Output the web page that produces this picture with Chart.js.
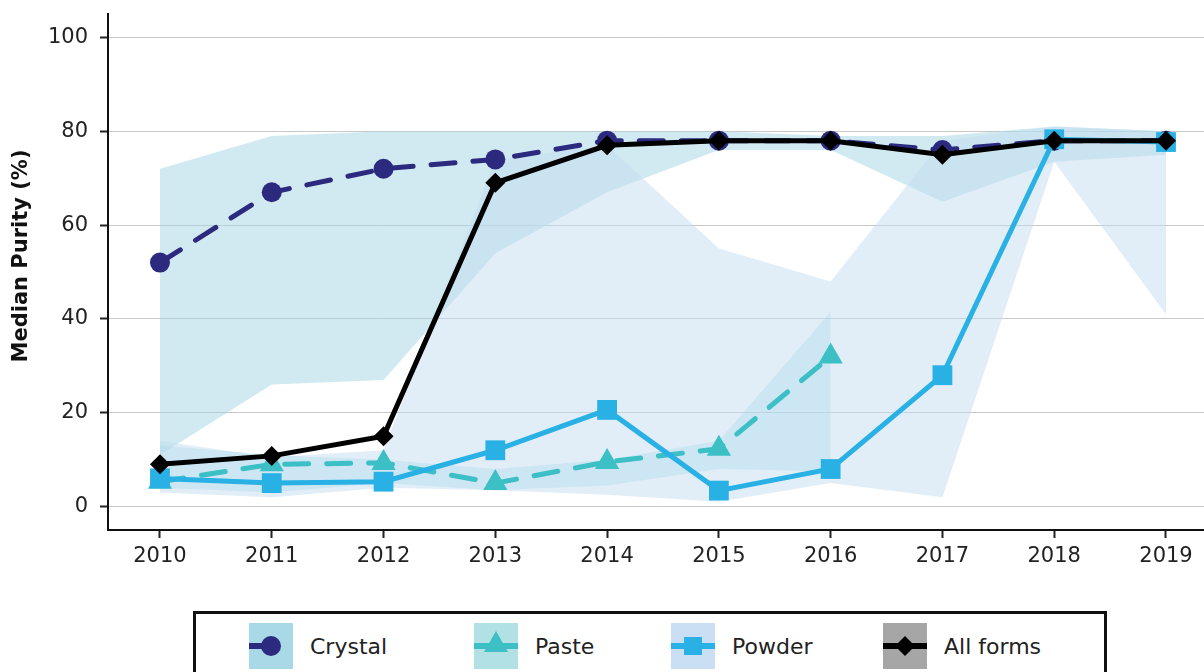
<!DOCTYPE html>
<html>
<head>
<meta charset="utf-8">
<script src="https://cdn.jsdelivr.net/npm/chart.js@4/dist/chart.umd.min.js"></script>
<style>
  body { margin: 0; background: #fff; font-family: "DejaVu Sans", sans-serif; }
  #wrap { position: relative; width: 1204px; height: 672px; overflow: hidden; }
  #chart { position: absolute; left: 0; top: 0; }
  #legend { position: absolute; left: 193px; top: 611px; width: 908px; height: 80px;
            border: 3px solid #111; box-sizing: content-box; }
  .item { position: absolute; top: 9px; display: flex; align-items: center; }
  .item span { font-size: 22px; color: #222; margin-left: 17px; }
</style>
</head>
<body>
<div id="wrap">
  <canvas id="chart" width="1218" height="600"></canvas>
  <div id="legend"></div>
</div>
<script>
const years = [2010, 2011, 2012, 2013, 2014, 2015, 2016, 2017, 2018, 2019];
const yTicks = [0, 20, 40, 60, 80, 100];

// medians
const crystal = [52, 67, 72, 74, 78, 78, 78, 76, 78, 78];
const paste = [5.3, 9, 9.3, 5, 9.5, 12.3, 32];
const powder = [6, 5, 5.3, 12, 20.6, 3.4, 8, 28, 78.3, 77.7];
const allForms = [9, 10.8, 15, 69, 77, 78, 78, 75, 78, 78];

// ranges (shaded)
const crystalLow = [11, 26, 27, 54, 67, 76, 76, 65, 73.5, 75];
const crystalHigh = [72, 79, 80, 80, 80, 80, 79, 79, 81, 80];
const pasteLow = [4, 3, 5, 3.5, 4.5, 8, 7.5];
const pasteHigh = [13, 11, 10, 8, 10, 14, 41.5];
const powderLow = [3, 2, 4, 3.5, 2.5, 1, 5, 2, 73.5, 41];
const powderHigh = [14, 10.5, 12, 74, 77, 55, 48, 78, 81, 80];

const NAVY = "#2b2a7f", TEAL = "#3cbfc5", BLUE = "#29b1e5", BLACK = "#000";
const FONT = "'DejaVu Sans', sans-serif";

const pts = arr => arr.map((v, i) => ({ x: years[i], y: v }));

function band(arr, color, fill, order) {
  return {
    data: pts(arr), borderWidth: 0, borderColor: "transparent",
    pointRadius: 0, backgroundColor: color, fill: fill, order: order, tension: 0
  };
}

function series(arr, color, style, radius, dashed, order) {
  return {
    data: pts(arr), borderColor: color, backgroundColor: color,
    borderWidth: 5, borderDash: dashed ? [24, 18] : [], borderCapStyle: "round",
    pointStyle: style, pointRadius: radius, pointBorderWidth: 0,
    pointBackgroundColor: color, fill: false, order: order, tension: 0
  };
}

const yTitle = {
  id: "yTitle",
  afterDraw(chart) {
    const c = chart.ctx;
    c.save();
    c.translate(22, 256);
    c.rotate(-Math.PI / 2);
    c.font = "bold 21px " + FONT;
    c.fillStyle = "#111";
    c.textAlign = "center";
    c.textBaseline = "middle";
    c.fillText("Median Purity (%)", 0, 0);
    c.restore();
  }
};

new Chart(document.getElementById("chart"), {
  type: "line",
  data: {
    datasets: [
      series(allForms, BLACK, "rectRot", 10, false, 0),
      series(powder, BLUE, "rect", 14, false, 1),
      series(paste, TEAL, "triangle", 14, true, 2),
      series(crystal, NAVY, "circle", 10, true, 3),
      band(crystalHigh, "rgba(164,213,228,0.5)", "+1", 6),
      band(crystalLow, "transparent", false, 6),
      band(pasteHigh, "rgba(140,210,225,0.35)", "+1", 5),
      band(pasteLow, "transparent", false, 5),
      band(powderHigh, "rgba(195,222,242,0.5)", "+1", 4),
      band(powderLow, "transparent", false, 4)
    ]
  },
  options: {
    responsive: false,
    devicePixelRatio: 1,
    animation: false,
    layout: { padding: { top: 12, right: 0, left: 0, bottom: 0 } },
    plugins: { legend: { display: false }, tooltip: { enabled: false } },
    scales: {
      x: {
        type: "linear", min: 2009.535, max: 2019.34,
        afterBuildTicks: s => { s.ticks = years.map(v => ({ value: v })); },
        afterFit: s => { s.height = 70; s.paddingLeft = 0; s.paddingRight = 0; },
        ticks: { callback: v => String(v), font: { family: FONT, size: 21 }, color: "#222", padding: 6, maxRotation: 0 },
        grid: { drawOnChartArea: false, tickLength: 8, tickColor: "#222", tickWidth: 2 },
        border: { color: "#111", width: 2 }
      },
      y: {
        min: -5, max: 105,
        afterBuildTicks: s => { s.ticks = yTicks.map(v => ({ value: v })); },
        afterFit: s => { s.width = 108; s.paddingTop = 0; s.paddingBottom = 0; },
        ticks: { font: { family: FONT, size: 21 }, color: "#222", padding: 12 },
        grid: { color: "#c8c8c8", lineWidth: 1, tickLength: 8, tickColor: "#222", tickWidth: 2 },
        border: { color: "#111", width: 2 }
      }
    }
  },
  plugins: [yTitle]
});

// legend
const legendItems = [
  { label: "Crystal", bg: "#a9d8e6", color: NAVY, shape: "circle", left: 53, half: true },
  { label: "Paste", bg: "#b1e0e5", color: TEAL, shape: "triangle", left: 278 },
  { label: "Powder", bg: "#cadff3", color: BLUE, shape: "square", left: 475 },
  { label: "All forms", bg: "#a6a6a6", color: BLACK, shape: "diamond", left: 687 }
];

function drawSwatch(cv, it) {
  const c = cv.getContext("2d");
  const w = cv.width, h = cv.height, cx = w / 2, cy = h / 2;
  c.fillStyle = it.bg;
  c.fillRect(0, 0, w, h);
  c.strokeStyle = it.color;
  c.lineWidth = 6;
  c.beginPath();
  c.moveTo(0, cy);
  c.lineTo(it.half ? cx : w, cy);
  c.stroke();
  c.fillStyle = it.color;
  c.beginPath();
  if (it.shape === "circle") c.arc(cx, cy, 10, 0, Math.PI * 2);
  if (it.shape === "triangle") { c.moveTo(cx, cy - 15); c.lineTo(cx + 12, cy + 6); c.lineTo(cx - 12, cy + 6); }
  if (it.shape === "square") c.rect(cx - 9, cy - 9, 18, 18);
  if (it.shape === "diamond") { c.moveTo(cx, cy - 10); c.lineTo(cx + 10, cy); c.lineTo(cx, cy + 10); c.lineTo(cx - 10, cy); }
  c.fill();
}

const legend = document.getElementById("legend");
legendItems.forEach(it => {
  const d = document.createElement("div");
  d.className = "item";
  d.style.left = it.left + "px";
  const cv = document.createElement("canvas");
  cv.width = 44; cv.height = 46;
  drawSwatch(cv, it);
  const s = document.createElement("span");
  s.textContent = it.label;
  d.appendChild(cv);
  d.appendChild(s);
  legend.appendChild(d);
});
</script>
</body>
</html>
